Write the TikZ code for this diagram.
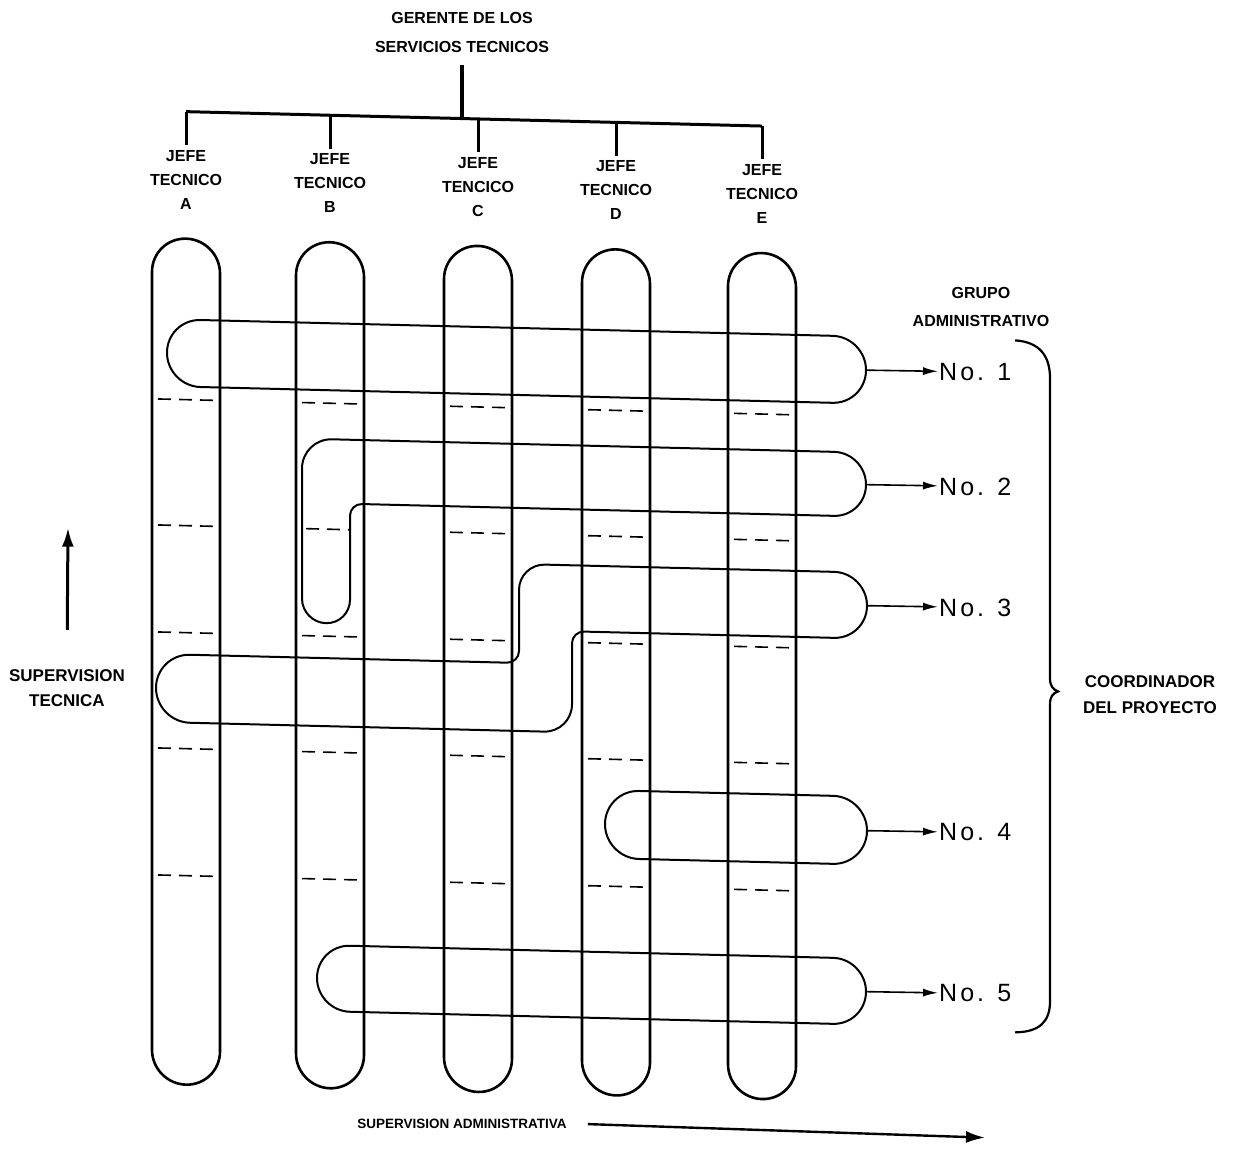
\documentclass[tikz,border=0pt]{standalone}
\usepackage{fontspec}
\setmainfont{Liberation Sans}
\newfontfamily\numfont[LetterSpace=12]{Liberation Sans}
\usetikzlibrary{arrows.meta}

\begin{document}
\begin{tikzpicture}[x=1pt, y=-1pt,
  pill/.style={line width=2.6pt, rounded corners=34pt},
  grp/.style={line width=2pt},
  dashmark/.style={line width=1.6pt, dash pattern=on 13pt off 8pt},
  org/.style={line width=3pt},
  txt/.style={align=center, font=\bfseries\fontsize{16}{24}\selectfont, inner sep=5pt},
  num/.style={anchor=west, inner sep=1pt, font=\numfont\fontsize{25}{30}\selectfont},
  toarrow/.style={line width=1.6pt, -{Latex[length=15pt, width=8pt]}},
  suparrow/.style={line width=3pt, -{Latex[length=19pt, width=12pt]}}]

\fill[white] (0,0) rectangle (1241,1148);
\useasboundingbox (0,0) rectangle (1241,1148);

\begin{scope}[yslant=-0.025]

\node[txt, font=\bfseries\fontsize{16}{29}\selectfont, inner sep=12pt] (ger) at (462,21) {GERENTE DE LOS\\SERVICIOS TECNICOS};

\node[txt] (jA) at (186,175) {JEFE\\TECNICO\\A};
\node[txt] (jB) at (330,175) {JEFE\\TECNICO\\B};
\node[txt] (jC) at (478,175) {JEFE\\TENCICO\\C};
\node[txt] (jD) at (616,175) {JEFE\\TECNICO\\D};
\node[txt] (jE) at (762,175) {JEFE\\TECNICO\\E};

\coordinate (bar) at (462,107);
\coordinate (barA) at (186,107);
\coordinate (barB) at (330,107);
\coordinate (barC) at (478,107);
\coordinate (barD) at (616,107);
\coordinate (barE) at (762,107);

\draw[org, line width=3.6pt] (ger.south) -- (bar);
\draw[org] (barA) -- (barE);
\foreach \c in {A,B,C,D,E}
  \draw[org] (bar\c) -- (j\c.north);

\foreach \x in {186,330,478,616,762}
  \draw[pill] (\x-34,234) rectangle (\x+34,1080);

\foreach \x in {186,330,478,616,762}
  \foreach \y in {395,628,744,871}
    \draw[dashmark] (\x-28,\y) -- (\x+27,\y);
\foreach \x in {186,478,616,762}
  \draw[dashmark] (\x-28,521) -- (\x+27,521);
\draw[dashmark] (306,521) -- (349,521);

\draw[grp, rounded corners=33.5pt] (167,315) rectangle (866,382);
\draw[grp] (332,431) -- (834,431) arc[start angle=90, end angle=-90, radius=32pt]
  -- (362,495) arc[start angle=90, end angle=180, radius=12pt]
  -- (350,591) arc[start angle=0, end angle=-180, radius=24pt]
  -- (302,461) arc[start angle=180, end angle=90, radius=30pt] -- cycle;
\draw[grp] (545,551) -- (834,551) arc[start angle=90, end angle=-90, radius=33pt]
  -- (584,617) arc[start angle=90, end angle=180, radius=12pt]
  -- (572,690) arc[start angle=0, end angle=-90, radius=28pt]
  -- (190,718) arc[start angle=270, end angle=90, radius=34pt]
  -- (507,650) arc[start angle=-90, end angle=0, radius=12pt]
  -- (519,577) arc[start angle=180, end angle=90, radius=26pt] -- cycle;
\draw[grp, rounded corners=34pt] (605,775) rectangle (867,843);
\draw[grp, rounded corners=33pt] (317,937) rectangle (866,1003);

\coordinate (g1) at (866,348.5);
\coordinate (g2) at (866,463);
\coordinate (g3) at (867,584);
\coordinate (g4) at (867,809);
\coordinate (g5) at (866,970);

\node[num] (n1) at (938,348.5) {No. 1};
\node[num] (n2) at (938,463) {No. 2};
\node[num] (n3) at (938,584) {No. 3};
\node[num] (n4) at (938,809) {No. 4};
\node[num] (n5) at (938,970) {No. 5};

\foreach \i in {1,...,5}
  \draw[toarrow] (g\i) -- (n\i);

\node[txt, font=\bfseries\fontsize{16}{28}\selectfont] (grupo) at (981,282) {GRUPO\\ADMINISTRATIVO};

\draw[line width=2.2pt] (1015,315) .. controls (1040,316) and (1050,330) .. (1050,352)
  -- (1050,652) .. controls (1050,660) and (1053,663) .. (1058,665)
  .. controls (1053,667) and (1050,670) .. (1050,678)
  -- (1050,975) .. controls (1050,995) and (1040,1006) .. (1015,1007);
\node[txt, font=\bfseries\fontsize{17}{26}\selectfont] (coord) at (1150,666) {COORDINADOR\\DEL PROYECTO};

\node[txt, font=\bfseries\fontsize{17}{25}\selectfont] (st) at (67,686) {SUPERVISION\\TECNICA};
\coordinate (st1) at (68,526);
\draw[suparrow, shorten <=34pt] (st.north) -- (st1);

\node[txt, font=\bfseries\fontsize{13.5}{17}\selectfont] (sa) at (462,1112) {SUPERVISION ADMINISTRATIVA};
\coordinate (sa1) at (985,1113);
\draw[suparrow, line width=2.4pt, shorten <=16pt] (sa.east) -- (sa1);

\end{scope}
\end{tikzpicture}
\end{document}
